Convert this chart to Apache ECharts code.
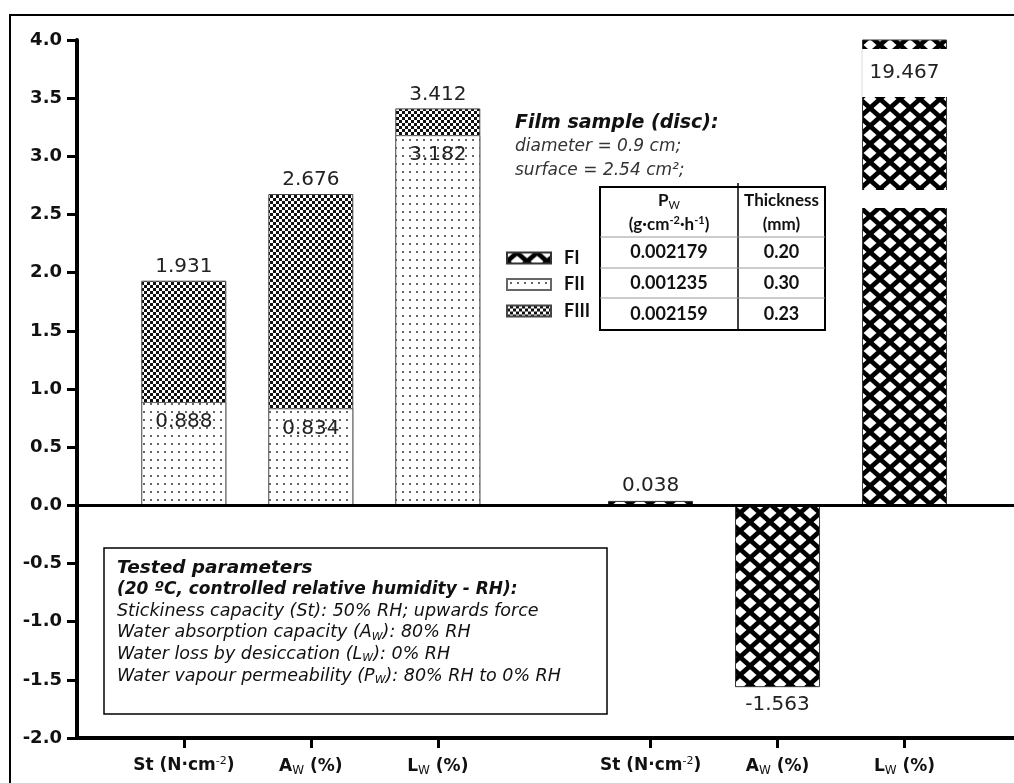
<!DOCTYPE html>
<html>
<head>
<meta charset="utf-8">
<script src="https://cdn.jsdelivr.net/npm/echarts@6/dist/echarts.min.js"></script>
<style>
html, body { margin: 0; padding: 0; background: #fff; }
#chart { width: 1014px; height: 783px; }
</style>
</head>
<body>
<div id="chart"></div>
<script>
// values
var xLabels = ['St (N\u00b7cm{sup|-2})', 'A{sub|W} (%)', 'L{sub|W} (%)'];
var fiiValues = [0.888, 0.834, 3.182];     // dotted, bottom part (left group)
var fiiiTotals = [1.931, 2.676, 3.412];    // checker, bar top (left group)
var fiValues = [0.038, -1.563, 19.467];    // lattice (right group)
var yMin = -2, yMax = 4, yStep = 0.5;
var legendNames = ['FI', 'FII', 'FIII'];
var tableRows = [['0.002179', '0.20'], ['0.001235', '0.30'], ['0.002159', '0.23']];
var boxLines = [
    'Stickiness capacity (St): 50% RH; upwards force',
    'Water absorption capacity (A{sub|W}): 80% RH',
    'Water loss by desiccation (L{sub|W}): 0% RH',
    'Water vapour permeability (P{sub|W}): 80% RH to 0% RH'
];

var BAR_W = 85;
var GROUP_SHIFT = 3.675;
var BREAK_GAP = [2.555, 2.71];
var BREAK_BOX = [3.51, 3.923];
var NUM_FONT = '"DejaVu Sans"';
var TAB_FONT = 'Lato';

var leftPos = [1, 2, 3];
var rightPos = leftPos.map(function (p) { return p + GROUP_SHIFT; });
var allPos = leftPos.concat(rightPos);

function makePattern(w, h, draw) {
    var c = document.createElement('canvas');
    c.width = w; c.height = h;
    draw(c.getContext('2d'));
    return { image: c, repeat: 'repeat' };
}
var dots = makePattern(7, 8, function (ctx) {
    ctx.fillStyle = '#fff'; ctx.fillRect(0, 0, 7, 8);
    ctx.fillStyle = '#666'; ctx.fillRect(3, 3, 2, 2);
});
var checker = makePattern(6, 6, function (ctx) {
    ctx.fillStyle = '#111'; ctx.fillRect(0, 0, 6, 6);
    ctx.fillStyle = '#fff'; ctx.fillRect(0, 0, 3, 3); ctx.fillRect(3, 3, 3, 3);
});
var lattice = makePattern(20, 18, function (ctx) {
    ctx.fillStyle = '#000'; ctx.fillRect(0, 0, 20, 18);
    ctx.fillStyle = '#fff';
    [[0, 0], [20, 0], [0, 18], [20, 18], [10, 9]].forEach(function (c) {
        ctx.beginPath();
        ctx.moveTo(c[0] - 6.5, c[1]); ctx.lineTo(c[0], c[1] - 5.8);
        ctx.lineTo(c[0] + 6.5, c[1]); ctx.lineTo(c[0], c[1] + 5.8);
        ctx.closePath(); ctx.fill();
    });
});

function valLabel(p) { return p.value[1].toFixed(3); }
var labelText = { fontFamily: NUM_FONT, fontSize: 20, color: '#222' };

function txt(x, y, text, s) {
    var style = { text: text, x: 0, y: 0, fill: s.fill || '#111', align: s.align || 'left', verticalAlign: 'middle',
        fontFamily: s.family, fontSize: s.size, fontWeight: s.weight || 'normal', fontStyle: s.style || 'normal' };
    if (s.rich) style.rich = s.rich;
    return { type: 'text', x: x, y: y, silent: true, style: style };
}
function richSub(s, size) {
    return {
        sub: { fontFamily: s.family, fontStyle: s.style || 'normal', fontWeight: 'normal', fontSize: size, fill: s.fill || '#111', padding: [8, 0, 0, 0] },
        sup: { fontFamily: s.family, fontStyle: s.style || 'normal', fontWeight: s.weight || 'normal', fontSize: size, fill: s.fill || '#111', padding: [0, 0, 9, 0] }
    };
}
function line(x1, y1, x2, y2, color, w) {
    return { type: 'line', silent: true, shape: { x1: x1, y1: y1, x2: x2, y2: y2 }, style: { stroke: color, lineWidth: w } };
}

var graphics = [];
// outer frame
graphics.push({ type: 'rect', silent: true, shape: { x: 10, y: 15, width: 1020, height: 790 }, style: { fill: 'none', stroke: '#000', lineWidth: 2 } });

// film sample note
graphics.push(txt(515, 123, 'Film sample (disc):', { family: NUM_FONT, size: 19, weight: 'bold', style: 'italic' }));
graphics.push(txt(515, 147, 'diameter = 0.9 cm;', { family: NUM_FONT, size: 17, style: 'italic', fill: '#333' }));
graphics.push(txt(515, 171, 'surface = 2.54 cm\u00b2;', { family: NUM_FONT, size: 17, style: 'italic', fill: '#333' }));

// table
var tx0 = 600, tx1 = 825, tcol = 738, ty0 = 187, ty1 = 330, rowTop = [237, 268, 298];
graphics.push({ type: 'rect', silent: true, shape: { x: tx0, y: ty0, width: tx1 - tx0, height: ty1 - ty0 }, style: { fill: '#fff', stroke: '#000', lineWidth: 2 } });
graphics.push(line(tcol, ty0 - 4, tcol, ty1, '#000', 1.5));
rowTop.forEach(function (y) { graphics.push(line(tx0, y, tx1, y, '#999', 1)); });
var tabStyle = { family: TAB_FONT, size: 17, weight: 'bold', align: 'center' };
tabStyle.rich = richSub(tabStyle, 11);
var c1 = (tx0 + tcol) / 2, c2 = (tcol + tx1) / 2;
graphics.push(txt(c1, 201, 'P{sub|W}', tabStyle));
graphics.push(txt(c1, 225, '(g\u00b7cm{sup|-2}\u00b7h{sup|-1})', tabStyle));
graphics.push(txt(c2, 201, 'Thickness', tabStyle));
graphics.push(txt(c2, 225, '(mm)', tabStyle));
tableRows.forEach(function (r, i) {
    var yc = (rowTop[i] + (rowTop[i + 1] || ty1)) / 2;
    graphics.push(txt(c1, yc, r[0], { family: TAB_FONT, size: 18, weight: 'bold', align: 'center' }));
    graphics.push(txt(c2, yc, r[1], { family: TAB_FONT, size: 18, weight: 'bold', align: 'center' }));
});

// tested parameters box
graphics.push({ type: 'rect', silent: true, shape: { x: 104, y: 548, width: 503, height: 166 }, style: { fill: '#fff', stroke: '#000', lineWidth: 1.5 } });
graphics.push(txt(117, 568, 'Tested parameters', { family: NUM_FONT, size: 18.5, weight: 'bold', style: 'italic' }));
graphics.push(txt(117, 590, '(20 \u00baC, controlled relative humidity - RH):', { family: NUM_FONT, size: 17, weight: 'bold', style: 'italic' }));
var boxStyle = { family: NUM_FONT, size: 17.5, style: 'italic' };
boxStyle.rich = richSub(boxStyle, 11);
boxLines.forEach(function (t, i) {
    graphics.push(txt(117, 611 + i * 21.7, t, boxStyle));
});

var chart = echarts.init(document.getElementById('chart'), null, { renderer: 'canvas' });
chart.setOption({
    animation: false,
    backgroundColor: '#fff',
    grid: { left: 77, right: 0, top: 40, bottom: 45, containLabel: false },
    legend: {
        data: legendNames, orient: 'vertical', left: 506, top: 249, padding: 0,
        itemWidth: 44, itemHeight: 11, itemGap: 8.5, icon: 'rect',
        textStyle: { fontFamily: TAB_FONT, fontWeight: 'bold', fontSize: 18, lineHeight: 18, color: '#111', padding: [0, 0, 0, 8] }
    },
    xAxis: {
        type: 'value', min: 0.159, max: 7.537,
        axisLine: { onZero: false, lineStyle: { color: '#000', width: 4 } },
        axisTick: { show: true, customValues: allPos, length: 10, lineStyle: { color: '#000', width: 3 } },
        axisLabel: {
            customValues: allPos, margin: 18, color: '#111',
            fontFamily: NUM_FONT, fontWeight: 'bold', fontSize: 17,
            formatter: function (v) {
                for (var i = 0; i < allPos.length; i++) {
                    if (Math.abs(allPos[i] - v) < 1e-6) return xLabels[i % 3];
                }
                return '';
            },
            rich: {
                sup: { fontSize: 11, fontWeight: 'normal', padding: [0, 0, 9, 0] },
                sub: { fontSize: 12, fontWeight: 'normal', padding: [9, 0, 0, 0] }
            }
        },
        splitLine: { show: false }
    },
    yAxis: {
        type: 'value', min: yMin, max: yMax, interval: yStep,
        axisLine: { show: true, lineStyle: { color: '#000', width: 4 } },
        axisTick: { show: true, length: 10, lineStyle: { color: '#000', width: 3 } },
        axisLabel: {
            margin: 15, color: '#111', fontFamily: NUM_FONT, fontWeight: 'bold', fontSize: 18,
            formatter: function (v) { return v.toFixed(1); }
        },
        splitLine: { show: false }
    },
    graphic: graphics,
    series: [
        {
            name: 'FIII', type: 'bar', barWidth: BAR_W, barGap: '-100%',
            data: leftPos.map(function (x, i) { return [x, fiiiTotals[i]]; }),
            itemStyle: { color: checker, borderColor: '#444', borderWidth: 1 },
            label: Object.assign({ show: true, position: 'top', distance: 4, formatter: valLabel }, labelText)
        },
        {
            name: 'FII', type: 'bar', barWidth: BAR_W, barGap: '-100%',
            data: leftPos.map(function (x, i) { return [x, fiiValues[i]]; }),
            itemStyle: { color: dots, borderColor: '#666', borderWidth: 1 },
            label: Object.assign({ show: true, position: 'insideTop', distance: 10, formatter: valLabel }, labelText)
        },
        {
            name: 'FI', type: 'bar', barWidth: BAR_W, barGap: '-100%',
            data: fiValues.map(function (v, i) {
                var item = { value: [rightPos[i], v] };
                if (v < 0) item.label = { position: 'bottom', distance: 8 };
                if (v > yMax) item.label = { show: false };
                return item;
            }),
            itemStyle: { color: lattice, borderColor: '#333', borderWidth: 1 },
            label: Object.assign({ show: true, position: 'top', distance: 5, formatter: valLabel }, labelText),
            markLine: {
                silent: true, symbol: 'none', label: { show: false },
                lineStyle: { color: '#000', width: 3, type: 'solid' },
                data: [{ yAxis: 0 }]
            }
        }
    ]
});

// axis break on bars that run off the scale, placed through the chart's own scales
var breaks = [];
fiValues.forEach(function (v, i) {
    if (v <= yMax) return;
    var x = rightPos[i];
    var half = BAR_W / 2 + 1;
    var gTop = chart.convertToPixel({ gridIndex: 0 }, [x, BREAK_GAP[1]]);
    var gBot = chart.convertToPixel({ gridIndex: 0 }, [x, BREAK_GAP[0]]);
    var bTop = chart.convertToPixel({ gridIndex: 0 }, [x, BREAK_BOX[1]]);
    var bBot = chart.convertToPixel({ gridIndex: 0 }, [x, BREAK_BOX[0]]);
    breaks.push({ type: 'rect', z: 100, silent: true, shape: { x: gTop[0] - half, y: gTop[1], width: half * 2, height: gBot[1] - gTop[1] }, style: { fill: '#fff' } });
    breaks.push({ type: 'rect', z: 100, silent: true, shape: { x: bTop[0] - half, y: bTop[1], width: half * 2, height: bBot[1] - bTop[1] }, style: { fill: '#fff' } });
    breaks.push({ type: 'line', z: 101, silent: true, shape: { x1: bTop[0] - half + 1, y1: bTop[1], x2: bTop[0] - half + 1, y2: bBot[1] }, style: { stroke: '#ddd', lineWidth: 1 } });
    var t = txt(bTop[0], (bTop[1] + bBot[1]) / 2, v.toFixed(3), { family: NUM_FONT, size: 20, fill: '#222', align: 'center' });
    t.z = 101;
    breaks.push(t);
});
chart.setOption({ graphic: graphics.concat(breaks) });
</script>
</body>
</html>
